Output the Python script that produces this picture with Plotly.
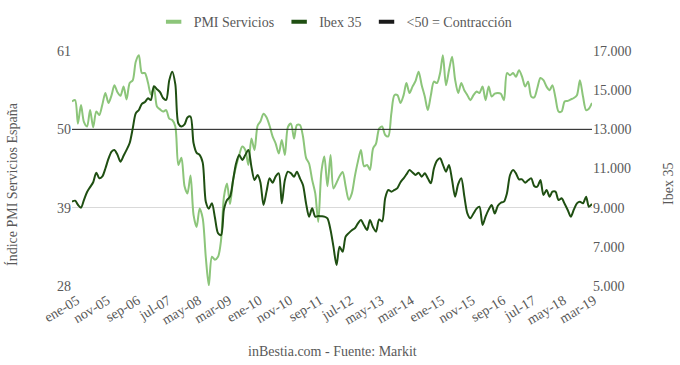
import pandas as pd
import plotly.graph_objects as go

# Monthly data, Jan 2005 .. Apr 2019
start_month = "2005-01-01"

pmi_servicios = [
    53.9, 54.1, 50.8, 53.4, 51.0, 50.4, 52.7, 50.3, 52.5, 52.0,
    53.5, 55.1, 53.7, 54.8, 56.2, 55.2, 54.7, 56.0, 54.2, 56.5,
    56.9, 59.5, 60.4, 57.9, 57.9, 56.5, 54.9, 55.8, 53.2, 52.8,
    52.5, 52.7, 51.5, 51.3, 50.4, 45.0, 46.0, 42.0, 41.0, 43.5,
    38.0, 36.3, 38.9, 37.5, 32.0, 28.1, 32.1, 31.7, 32.1, 34.5,
    40.5, 42.4, 39.5, 42.9, 44.8, 46.4, 47.6, 47.1, 45.0, 48.7,
    47.1, 50.5, 51.1, 52.2, 51.7, 50.5, 49.0, 48.0, 46.6, 48.5,
    46.4, 50.3, 50.8, 48.7, 50.6, 50.6, 49.0, 46.0, 45.2, 42.9,
    41.0, 37.0, 44.0, 46.2, 42.0, 46.4, 41.7, 42.5, 43.4, 44.0,
    42.0, 40.1, 41.0, 43.4, 45.5, 47.1, 44.8, 45.0, 44.3, 47.3,
    48.0, 50.1, 50.4, 49.2, 49.0, 52.2, 54.8, 54.8, 53.7, 54.8,
    56.5, 55.1, 56.0, 56.8, 58.1, 56.2, 54.6, 52.7, 54.8, 56.7,
    56.5, 57.9, 60.4, 56.2, 58.3, 60.2, 57.0, 55.1, 56.5, 55.5,
    54.8, 54.1, 54.8, 55.3, 55.1, 56.0, 54.1, 56.0, 54.6, 55.0,
    55.1, 55.0, 54.1, 57.9, 57.6, 57.9, 57.4, 58.3, 57.4, 56.0,
    56.7, 54.6, 54.5, 55.8, 57.2, 56.9, 56.0, 55.5, 56.2, 54.4,
    52.5, 52.5, 53.9, 54.0, 54.2, 54.4, 54.8, 56.9, 54.6, 52.7,
    52.9, 53.7,
]

ibex_35 = [
    9307, 9358, 9150, 9000, 9400, 9800, 10050, 10300, 10788, 10500,
    10600, 11000, 11500, 11860, 11945, 11700, 11349, 11650, 11950, 12300,
    13051, 13817, 13987, 14300, 14400, 14583, 14500, 15200, 15050, 14900,
    14600, 14500, 15500, 15945, 15300, 13300, 13150, 13250, 13600, 13650,
    12300, 11800, 11700, 11300, 9300, 8950, 9222, 8500, 7700, 7605,
    8900, 9392, 9562, 10413, 11264, 11690, 11434, 11690, 11945, 11094,
    10413, 10669, 10300, 9137, 9818, 10498, 10277, 10600, 10754, 9222,
    10413, 10839, 10754, 10583, 10839, 10498, 10157, 9222, 8541, 8967,
    8541, 8575, 8560, 8541, 8456, 7860, 7009, 6073, 7000, 6754,
    7520, 7700, 7850, 7946, 8200, 8371, 8100, 7860, 8371, 8000,
    7775, 8400, 8300, 9500, 9903, 9818, 9903, 10000, 10300, 10500,
    10700, 10924, 10800, 10669, 10788, 10583, 10754, 10500, 10243, 11000,
    11400, 11520, 11200, 10839, 11179, 10413, 9562, 10200, 10498, 9600,
    8711, 8456, 8700, 8950, 9051, 8115, 8541, 8900, 9137, 8700,
    9100, 9250, 9307, 9733, 10669, 10924, 10754, 10447, 10447, 10277,
    10400, 10498, 10100, 10073, 10413, 9647, 9903, 9562, 9818, 9818,
    9392, 9477, 9200, 8881, 8541, 8900, 9222, 9307, 9222, 9562,
    9051, 9187,
]

contraction_level = 50

tick_labels = ["ene-05", "nov-05", "sep-06", "jul-07", "may-08", "mar-09",
               "ene-10", "nov-10", "sep-11", "jul-12", "may-13", "mar-14",
               "ene-15", "nov-15", "sep-16", "jul-17", "may-18", "mar-19"]

months = pd.date_range(start_month, periods=len(pmi_servicios), freq="MS")
tick_vals = pd.date_range(start_month, periods=len(tick_labels), freq="10MS")

C_PMI = "#8cc57a"
C_IBEX = "#1f4f12"
C_LINE = "#1a1a1a"
FONT = "Liberation Serif"
GRAY = "#595959"
F14 = dict(family=FONT, size=14, color=GRAY)

fig = go.Figure()

fig.add_trace(go.Scatter(x=months, y=pmi_servicios, mode="lines", name="PMI Servicios",
                         line=dict(color=C_PMI, width=2, shape="spline", smoothing=0.8),
                         showlegend=False, yaxis="y"))
fig.add_trace(go.Scatter(x=months, y=ibex_35, mode="lines", name="Ibex 35",
                         line=dict(color=C_IBEX, width=2, shape="spline", smoothing=0.8),
                         showlegend=False, yaxis="y2"))
fig.add_trace(go.Scatter(x=months, y=[contraction_level] * len(months), mode="lines",
                         name="<50 = Contracción",
                         line=dict(color=C_LINE, width=1),
                         showlegend=False, yaxis="y"))

# legend swatches (short thick bars)
for name, col in [("PMI Servicios", C_PMI), ("Ibex 35", C_IBEX), ("<50 = Contracción", C_LINE)]:
    fig.add_trace(go.Scatter(x=[None], y=[None], mode="markers", name=name,
                             marker=dict(symbol="line-ew-open", size=11, color=col,
                                         line=dict(color=col, width=4)),
                             showlegend=True))

fig.update_layout(
    width=680, height=365,
    margin=dict(l=72, r=88, t=51, b=79, autoexpand=False),
    paper_bgcolor="white", plot_bgcolor="white",
    font=F14,
    separators=",.",
    legend=dict(orientation="h", x=0.507, xanchor="center", y=1.123, yanchor="middle",
                font=F14, bgcolor="rgba(0,0,0,0)"),
    xaxis=dict(range=[months[0], months[-1]], tickvals=tick_vals, ticktext=tick_labels,
               tickangle=-31, showgrid=False, zeroline=False, showline=False,
               tickfont=F14, automargin=False, ticklabelshift=5, ticklabelstandoff=3),
    yaxis=dict(range=[28, 61], tickvals=[28, 39, 50, 61], showgrid=True,
               gridcolor="#d9d9d9", gridwidth=1, zeroline=False, showline=False,
               tickfont=F14, automargin=False),
    yaxis2=dict(range=[5000, 17000], tickvals=[5000, 7000, 9000, 11000, 13000, 15000, 17000],
                tickformat=",d", overlaying="y", side="right", showgrid=False,
                zeroline=False, showline=False, tickfont=F14, automargin=False),
    showlegend=True,
)

fig.add_annotation(text="Índice PMI Servicios España", xref="paper", yref="paper",
                   x=-0.1154, y=0.434, textangle=-90, showarrow=False,
                   xanchor="center", yanchor="middle", font=F14)
fig.add_annotation(text="Ibex 35", xref="paper", yref="paper",
                   x=1.146, y=0.434, textangle=-90, showarrow=False,
                   xanchor="center", yanchor="middle", font=F14)
fig.add_annotation(text="inBestia.com - Fuente: Markit", xref="paper", yref="paper",
                   x=0.5, y=-0.277, showarrow=False, xanchor="center", yanchor="middle",
                   font=F14)

fig.write_html("out.html", config={"displayModeBar": False},
               post_script="document.body.style.margin='0';document.body.style.overflow='hidden';")
